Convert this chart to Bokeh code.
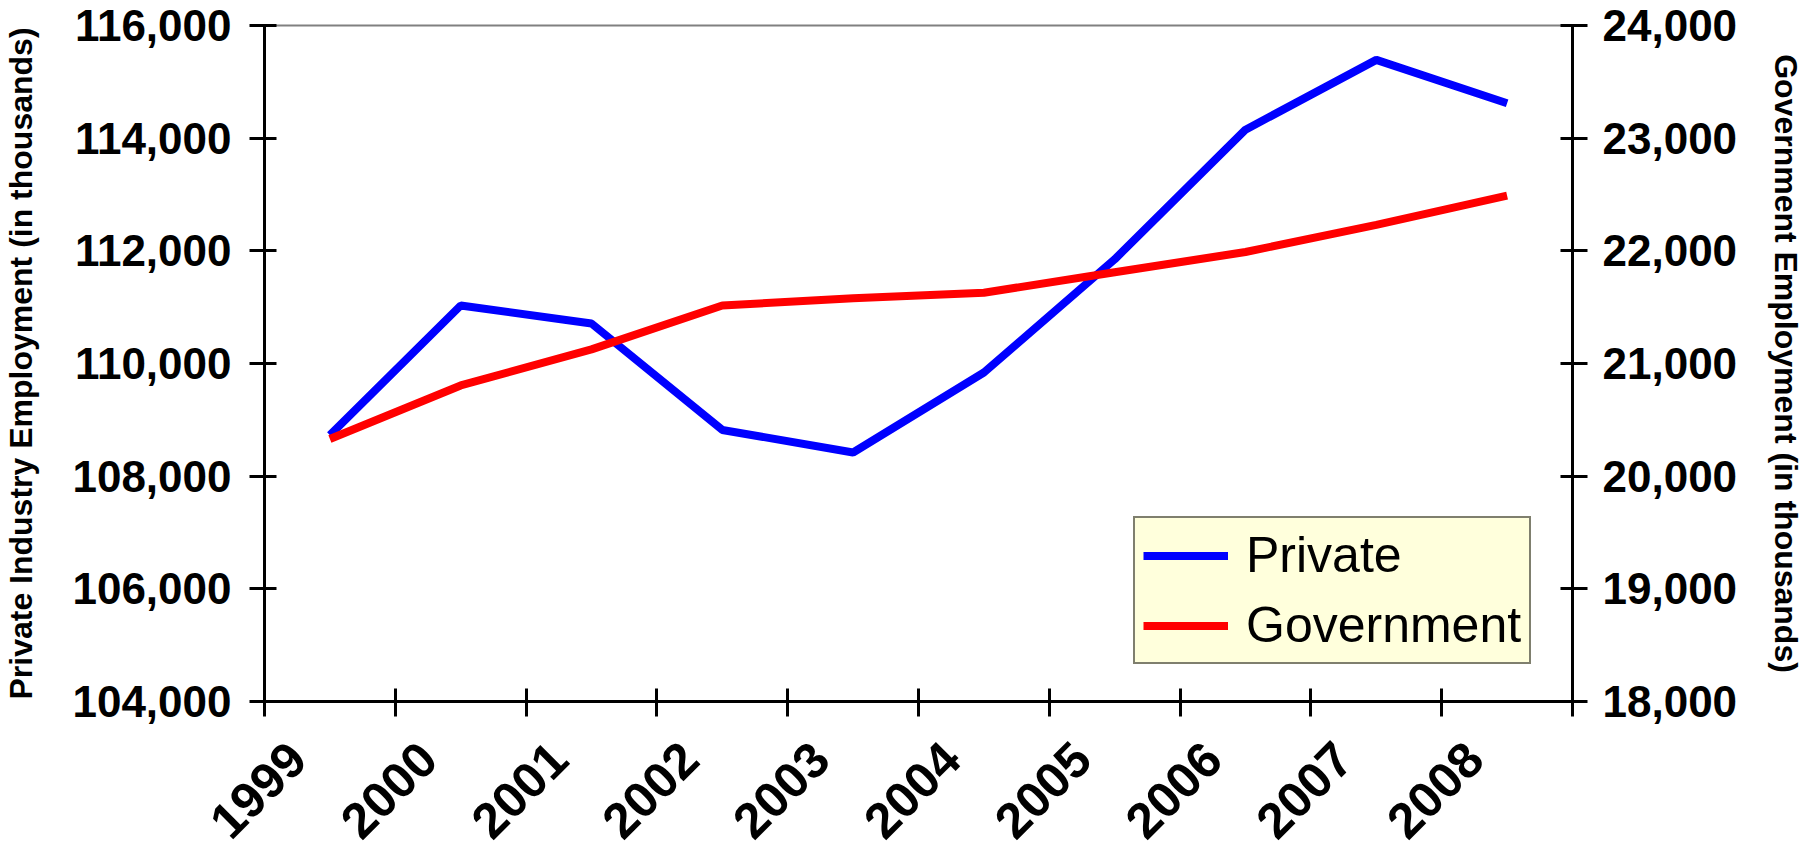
from bokeh.plotting import figure
from bokeh.models import Range1d, LinearAxis, FixedTicker, NumeralTickFormatter, Legend, LegendItem, Label
from bokeh.embed import file_html
from bokeh.resources import INLINE
import math

# ---- data ----
years = [1999, 2000, 2001, 2002, 2003, 2004, 2005, 2006, 2007, 2008]
year_labels = ["1999", "2000", "2001", "2002", "2003", "2004", "2005", "2006", "2007", "2008"]
private = [108730, 111030, 110710, 108820, 108420, 109840, 111850, 114150, 115390, 114620]
government = [20330, 20805, 21125, 21515, 21580, 21628, 21810, 21990, 22230, 22490]
left_ticks = [104000, 106000, 108000, 110000, 112000, 114000, 116000]
right_ticks = [18000, 19000, 20000, 21000, 22000, 23000, 24000]

FONT = "Liberation Sans"

# category centres, category boundaries, label anchors
xs = [y + 0.5 for y in years]
bounds = years + [years[-1] + 1]
label_pos = [y + 0.25 for y in years]

p = figure(width=1810, height=856, output_backend="svg", toolbar_location=None,
           x_range=Range1d(bounds[0], bounds[-1]),
           y_range=Range1d(left_ticks[0], left_ticks[-1]),
           min_border_left=264, min_border_right=238, min_border_top=25, min_border_bottom=154)
p.extra_y_ranges = {"gov": Range1d(right_ticks[0], right_ticks[-1])}

p.xgrid.visible = False
p.ygrid.visible = False
p.outline_line_color = "#808080"
p.outline_line_width = 2
p.background_fill_color = "white"
p.border_fill_color = "white"

# x axis: boundary tick marks as minor ticks, labels at offset positions
xa = p.xaxis[0]
xa.ticker = FixedTicker(ticks=label_pos, minor_ticks=bounds)
xa.major_label_overrides = dict(zip(label_pos, year_labels))
xa.major_tick_in = 0
xa.major_tick_out = 0
xa.minor_tick_in = 13
xa.minor_tick_out = 15
xa.minor_tick_line_width = 3
xa.minor_tick_line_color = "black"
xa.axis_line_width = 3
xa.axis_line_color = "black"
xa.major_label_orientation = math.pi / 4
xa.major_label_standoff = 34
xa.major_label_text_font = FONT
xa.major_label_text_font_style = "bold"
xa.major_label_text_font_size = "50px"
xa.major_label_text_color = "black"

# left axis
ya = p.yaxis[0]
ya.ticker = FixedTicker(ticks=left_ticks)
ya.formatter = NumeralTickFormatter(format="0,0")
ya.major_tick_in = 12
ya.major_tick_out = 15
ya.major_tick_line_width = 3
ya.minor_tick_line_color = None
ya.axis_line_width = 3
ya.major_label_standoff = 18
ya.major_label_text_font = FONT
ya.major_label_text_font_style = "bold"
ya.major_label_text_font_size = "44px"
ya.major_label_text_color = "black"
ya.axis_label = "Private Industry Employment (in thousands)"
ya.axis_label_text_font = FONT
ya.axis_label_text_font_style = "bold"
ya.axis_label_text_font_size = "32px"
ya.axis_label_text_color = "black"
ya.axis_label_standoff = 30

# right axis
ra = LinearAxis(y_range_name="gov", ticker=FixedTicker(ticks=right_ticks),
                formatter=NumeralTickFormatter(format="0,0"))
ra.major_tick_in = 12
ra.major_tick_out = 15
ra.major_tick_line_width = 3
ra.minor_tick_line_color = None
ra.axis_line_width = 3
ra.major_label_standoff = 15
ra.major_label_text_font = FONT
ra.major_label_text_font_style = "bold"
ra.major_label_text_font_size = "44px"
ra.major_label_text_color = "black"
ra.axis_label = "Government Employment (in thousands)"
ra.axis_label_text_font = FONT
ra.axis_label_text_font_style = "bold"
ra.axis_label_text_font_size = "32px"
ra.axis_label_text_color = "black"
ra.axis_label_standoff = 28
p.add_layout(ra, "right")

r1 = p.line(xs, private, line_color="#0000FF", line_width=8)
r2 = p.line(xs, government, line_color="#FF0000", line_width=8, y_range_name="gov")

legend = Legend(items=[LegendItem(label="Private", renderers=[r1]),
                       LegendItem(label="Government", renderers=[r2])],
                location=(869, 37))
legend.background_fill_color = "#FFFFDC"
legend.background_fill_alpha = 1
legend.border_line_color = "black"
legend.border_line_width = 2
legend.label_text_font = FONT
legend.label_text_font_size = "50px"
legend.label_text_color = "black"
legend.glyph_width = 85
legend.glyph_height = 55
legend.label_height = 55
legend.label_standoff = 18
legend.padding = 8
legend.spacing = 12
p.add_layout(legend)

# tiny footer at the bottom-left edge
footer = Label(x=-186, y=-153, x_units="screen", y_units="screen", text="\u00a9 LAD",
               text_font="Liberation Serif", text_font_size="12px", text_color="#555555",
               text_baseline="bottom")
p.add_layout(footer)

open("out.html", "w").write(file_html(p, INLINE))
